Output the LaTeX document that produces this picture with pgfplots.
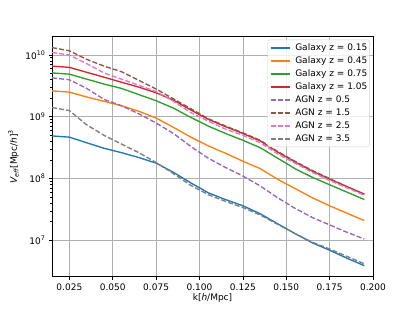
\documentclass[border=0pt]{standalone}
\usepackage{fontspec}
\setmainfont{DejaVu Sans}
\usepackage{pgfplots}
\usepackage{pgfplotstable}
\pgfplotsset{compat=1.18}
\definecolor{C0}{HTML}{1F77B4}
\definecolor{C1}{HTML}{FF7F0E}
\definecolor{C2}{HTML}{2CA02C}
\definecolor{C3}{HTML}{D62728}
\definecolor{C4}{HTML}{9467BD}
\definecolor{C5}{HTML}{8C564B}
\definecolor{C6}{HTML}{E377C2}
\definecolor{C7}{HTML}{7F7F7F}
\definecolor{gridc}{HTML}{B0B0B0}
\pgfplotstableread{
k gA gB gC gD aA aB aC aD
0.015 4.90e8 2.63e9 5.13e9 6.61e9 4.27e9 1.32e10 1.10e10 1.41e9
0.025 4.68e8 2.51e9 4.90e9 6.31e9 3.98e9 1.17e10 1.00e10 1.26e9
0.035 3.80e8 2.09e9 4.07e9 5.25e9 2.88e9 8.51e9 7.24e9 7.41e8
0.045 3.09e8 1.78e9 3.39e9 4.37e9 1.91e9 6.61e9 5.13e9 5.01e8
0.055 2.63e8 1.51e9 2.88e9 3.63e9 1.51e9 5.37e9 4.07e9 3.63e8
0.065 2.19e8 1.23e9 2.29e9 3.02e9 1.12e9 3.89e9 3.24e9 2.63e8
0.075 1.78e8 9.55e8 1.82e9 2.45e9 7.94e8 2.82e9 2.57e9 1.82e8
0.085 1.26e8 6.76e8 1.38e9 1.86e9 5.37e8 1.95e9 1.78e9 1.20e8
0.095 8.51e7 4.68e8 9.77e8 1.29e9 3.31e8 1.35e9 1.17e9 7.76e7
0.105 5.89e7 3.39e8 7.08e8 9.12e8 2.14e8 9.33e8 8.51e8 5.50e7
0.115 4.57e7 2.57e8 5.37e8 6.92e8 1.51e8 7.08e8 6.31e8 4.27e7
0.125 3.63e7 1.91e8 4.17e8 5.37e8 1.10e8 5.50e8 5.01e8 3.39e7
0.135 2.69e7 1.45e8 3.16e8 4.07e8 7.59e7 4.17e8 3.80e8 2.57e7
0.145 1.86e7 9.77e7 2.14e8 2.69e8 4.90e7 2.75e8 2.51e8 1.82e7
0.155 1.29e7 6.92e7 1.45e8 1.86e8 3.31e7 1.91e8 1.78e8 1.29e7
0.165 9.12e6 4.90e7 1.05e8 1.32e8 2.34e7 1.35e8 1.26e8 9.33e6
0.175 6.92e6 3.63e7 7.94e7 9.77e7 1.78e7 1.00e8 9.33e7 7.24e6
0.185 5.13e6 2.75e7 6.03e7 7.41e7 1.35e7 7.41e7 7.08e7 5.50e6
0.195 3.89e6 2.09e7 4.57e7 5.62e7 1.05e7 5.50e7 5.37e7 4.17e6
}\datatable
\pgfplotsset{
  gal/.style={line width=1.35bp, color=#1},
  agn/.style={line width=1.35bp, dash pattern=on 5bp off 2.2bp, color=#1},
}
\begin{document}
\begin{tikzpicture}
\path[use as bounding box] (0,0) rectangle (415bp,311bp);
\begin{axis}[
  at={(52bp,34.3bp)}, anchor=south west,
  scale only axis, width=321bp, height=240bp,
  ymode=log,
  xmin=0.015, xmax=0.2, ymin=2.58e6, ymax=1.98e10,
  xtick={0.025,0.05,0.075,0.1,0.125,0.15,0.175,0.2},
  xticklabels={0.025,0.050,0.075,0.100,0.125,0.150,0.175,0.200},
  ytick={1e7,1e8,1e9,1e10},
  yticklabels={10\textsuperscript{7},10\textsuperscript{8},10\textsuperscript{9},10\textsuperscript{10}},
  tick label style={font=\fontsize{9bp}{10bp}\selectfont},
  tick align=outside, xtick pos=bottom, ytick pos=left,
  major tick length=3.15bp, minor tick length=1.8bp,
  every tick/.style={black, line width=0.72bp},
  grid=major, major grid style={gridc, line width=0.72bp},
  axis line style={line width=0.72bp},
  xlabel={k[{\itshape h}/Mpc]},
  ylabel={{\itshape V}\textsubscript{\itshape eff}[Mpc/{\itshape h}]\textsuperscript{3}},
  label style={font=\fontsize{9bp}{10bp}\selectfont},
  xlabel style={at={([yshift=-21.6bp]axis description cs:0.5,0)}, anchor=center},
  ylabel style={at={([xshift=-38.5bp]axis description cs:0,0.5)}, anchor=center},
  legend cell align=left,
  legend style={at={([xshift=-3.5bp,yshift=-3bp]axis description cs:1,1)}, anchor=north east,
    font=\fontsize{9bp}{10bp}\selectfont, draw=gray!35, rounded corners=2bp,
    fill=white, fill opacity=0.8, text opacity=1, inner xsep=2bp, inner ysep=3.5bp,
    nodes={inner sep=0pt, text height=7bp, text depth=2bp},
    row sep=4bp, column sep=5bp},
  legend image code/.code={\draw[line width=1.5bp] (0bp,0bp) -- (19bp,0bp);},
]
\addplot[gal=C0] table[x=k,y=gA] {\datatable};
\addplot[gal=C1] table[x=k,y=gB] {\datatable};
\addplot[gal=C2] table[x=k,y=gC] {\datatable};
\addplot[gal=C3] table[x=k,y=gD] {\datatable};
\addplot[agn=C4] table[x=k,y=aA] {\datatable};
\addplot[agn=C5] table[x=k,y=aB] {\datatable};
\addplot[agn=C6] table[x=k,y=aC] {\datatable};
\addplot[agn=C7] table[x=k,y=aD] {\datatable};
\legend{Galaxy z = 0.15, Galaxy z = 0.45, Galaxy z = 0.75, Galaxy z = 1.05, AGN z = 0.5, AGN z = 1.5, AGN z = 2.5, AGN z = 3.5}
\end{axis}
\end{tikzpicture}
\end{document}
